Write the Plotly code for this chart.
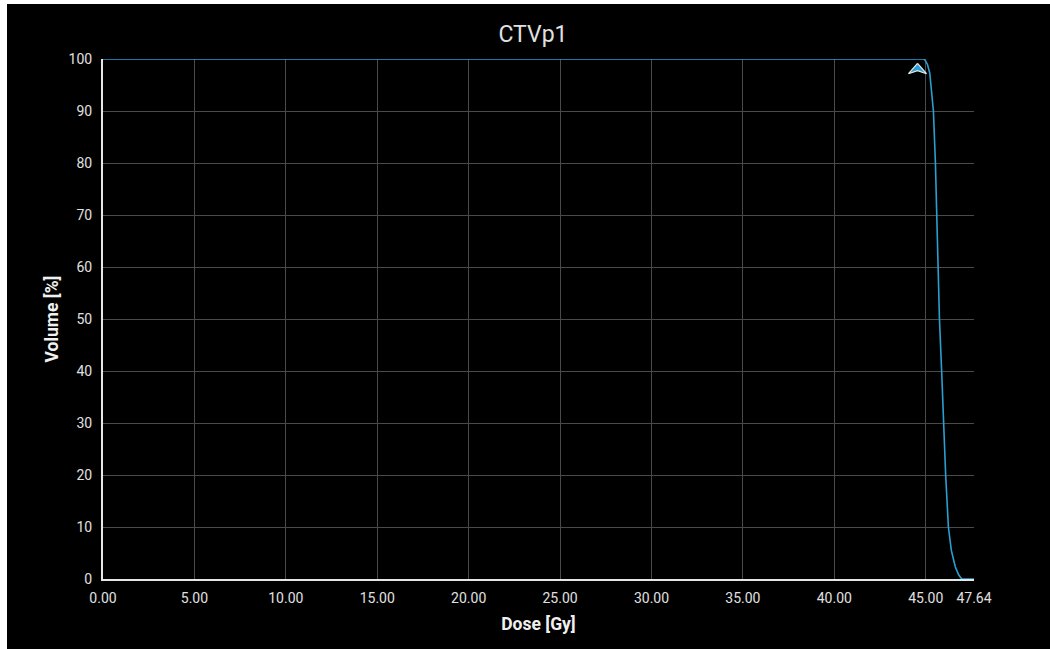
import plotly.graph_objects as go

# Cumulative DVH for CTVp1
dose_gy = [0.0, 44.90, 45.00, 45.10, 45.22, 45.42, 45.53, 45.60, 45.67, 45.75,
           45.87, 45.97, 46.09, 46.24, 46.40, 46.62, 46.80, 46.97, 47.64]
volume_pct = [100.0, 100.0, 99.6, 98.9, 97.3, 90.0, 80.0, 70.0, 60.0, 50.0,
              40.0, 30.0, 20.0, 10.0, 5.5, 2.3, 0.8, 0.0, 0.0]

# Objective marker (dose, volume)
objective_dose = 44.55
objective_volume = 97.9

x_tickvals = [0, 5, 10, 15, 20, 25, 30, 35, 40, 45, 47.64]
x_ticktext = ["0.00", "5.00", "10.00", "15.00", "20.00", "25.00", "30.00",
              "35.00", "40.00", "45.00", "47.64"]
y_tickvals = [0, 10, 20, 30, 40, 50, 60, 70, 80, 90, 100]

X_RANGE = [0, 47.64]
Y_RANGE = [0, 100]

LINE_BLUE = "#2a9fd2"
GRID = "#4a4a4a"
TEXT = "#e0e0e0"

W, H = 1050, 649
ML, MR, MT, MB = 103, 76, 59, 70
pw, ph = W - ML - MR, H - MT - MB

# pixel -> data unit conversion for sizing the chevron glyph
gy_per_px = (X_RANGE[1] - X_RANGE[0]) / pw
pct_per_px = (Y_RANGE[1] - Y_RANGE[0]) / ph
# chevron outline in pixel offsets (x right, y down): tip, right wing, notch, left wing
chevron_px = [(0, -6.5), (9, 3.8), (0, 0.8), (-9, 3.8), (0, -6.5)]
chev_x = [objective_dose + dx * gy_per_px for dx, dy in chevron_px]
chev_y = [objective_volume - dy * pct_per_px for dx, dy in chevron_px]

fig = go.Figure()
fig.add_trace(go.Scatter(
    x=dose_gy, y=volume_pct, mode="lines",
    line=dict(color=LINE_BLUE, width=1.6),
    hoverinfo="skip", showlegend=False,
))
fig.add_trace(go.Scatter(
    x=chev_x, y=chev_y, mode="lines", fill="toself",
    fillcolor=LINE_BLUE, line=dict(color="#e8e8e8", width=1.2),
    hoverinfo="skip", showlegend=False,
))

# dark panel behind the whole chart (leaves a thin light strip at left/top)
fig.add_shape(
    type="rect", xref="paper", yref="paper", layer="below",
    x0=(7 - ML) / pw, x1=(W + 5 - ML) / pw,
    y0=-(MB + 5) / ph, y1=(H - 4 - MB) / ph,
    fillcolor="black", line=dict(width=0),
)

fig.update_layout(
    width=W, height=H,
    margin=dict(l=ML, r=MR, t=MT, b=MB),
    paper_bgcolor="white", plot_bgcolor="black",
    font=dict(family="Roboto", color=TEXT, size=14),
    title=dict(text="CTVp1", x=(533 - ML) / pw, xref="paper", xanchor="center",
               y=1 - 34 / H, yanchor="middle",
               font=dict(family="Roboto", size=23, color=TEXT)),
    xaxis=dict(
        range=X_RANGE, tickvals=x_tickvals, ticktext=x_ticktext,
        showgrid=True, gridcolor=GRID, gridwidth=1,
        showline=True, linecolor="#e6e6e6", linewidth=2,
        zeroline=False, ticks="", layer="below traces",
        tickfont=dict(size=14, color=TEXT), ticklabelstandoff=5,
        title=dict(text="<b>Dose [Gy]</b>", standoff=13,
                   font=dict(size=17.5, color="#f0f0f0")),
    ),
    yaxis=dict(
        range=Y_RANGE, tickvals=y_tickvals,
        showgrid=True, gridcolor=GRID, gridwidth=1,
        showline=True, linecolor="#e6e6e6", linewidth=2,
        zeroline=False, ticks="", layer="below traces",
        tickfont=dict(size=14, color=TEXT), ticklabelstandoff=6,
        title=dict(text="<b>Volume [%]</b>", standoff=5,
                   font=dict(size=17.5, color="#f0f0f0")),
    ),
)

fig.write_html("out.html")
